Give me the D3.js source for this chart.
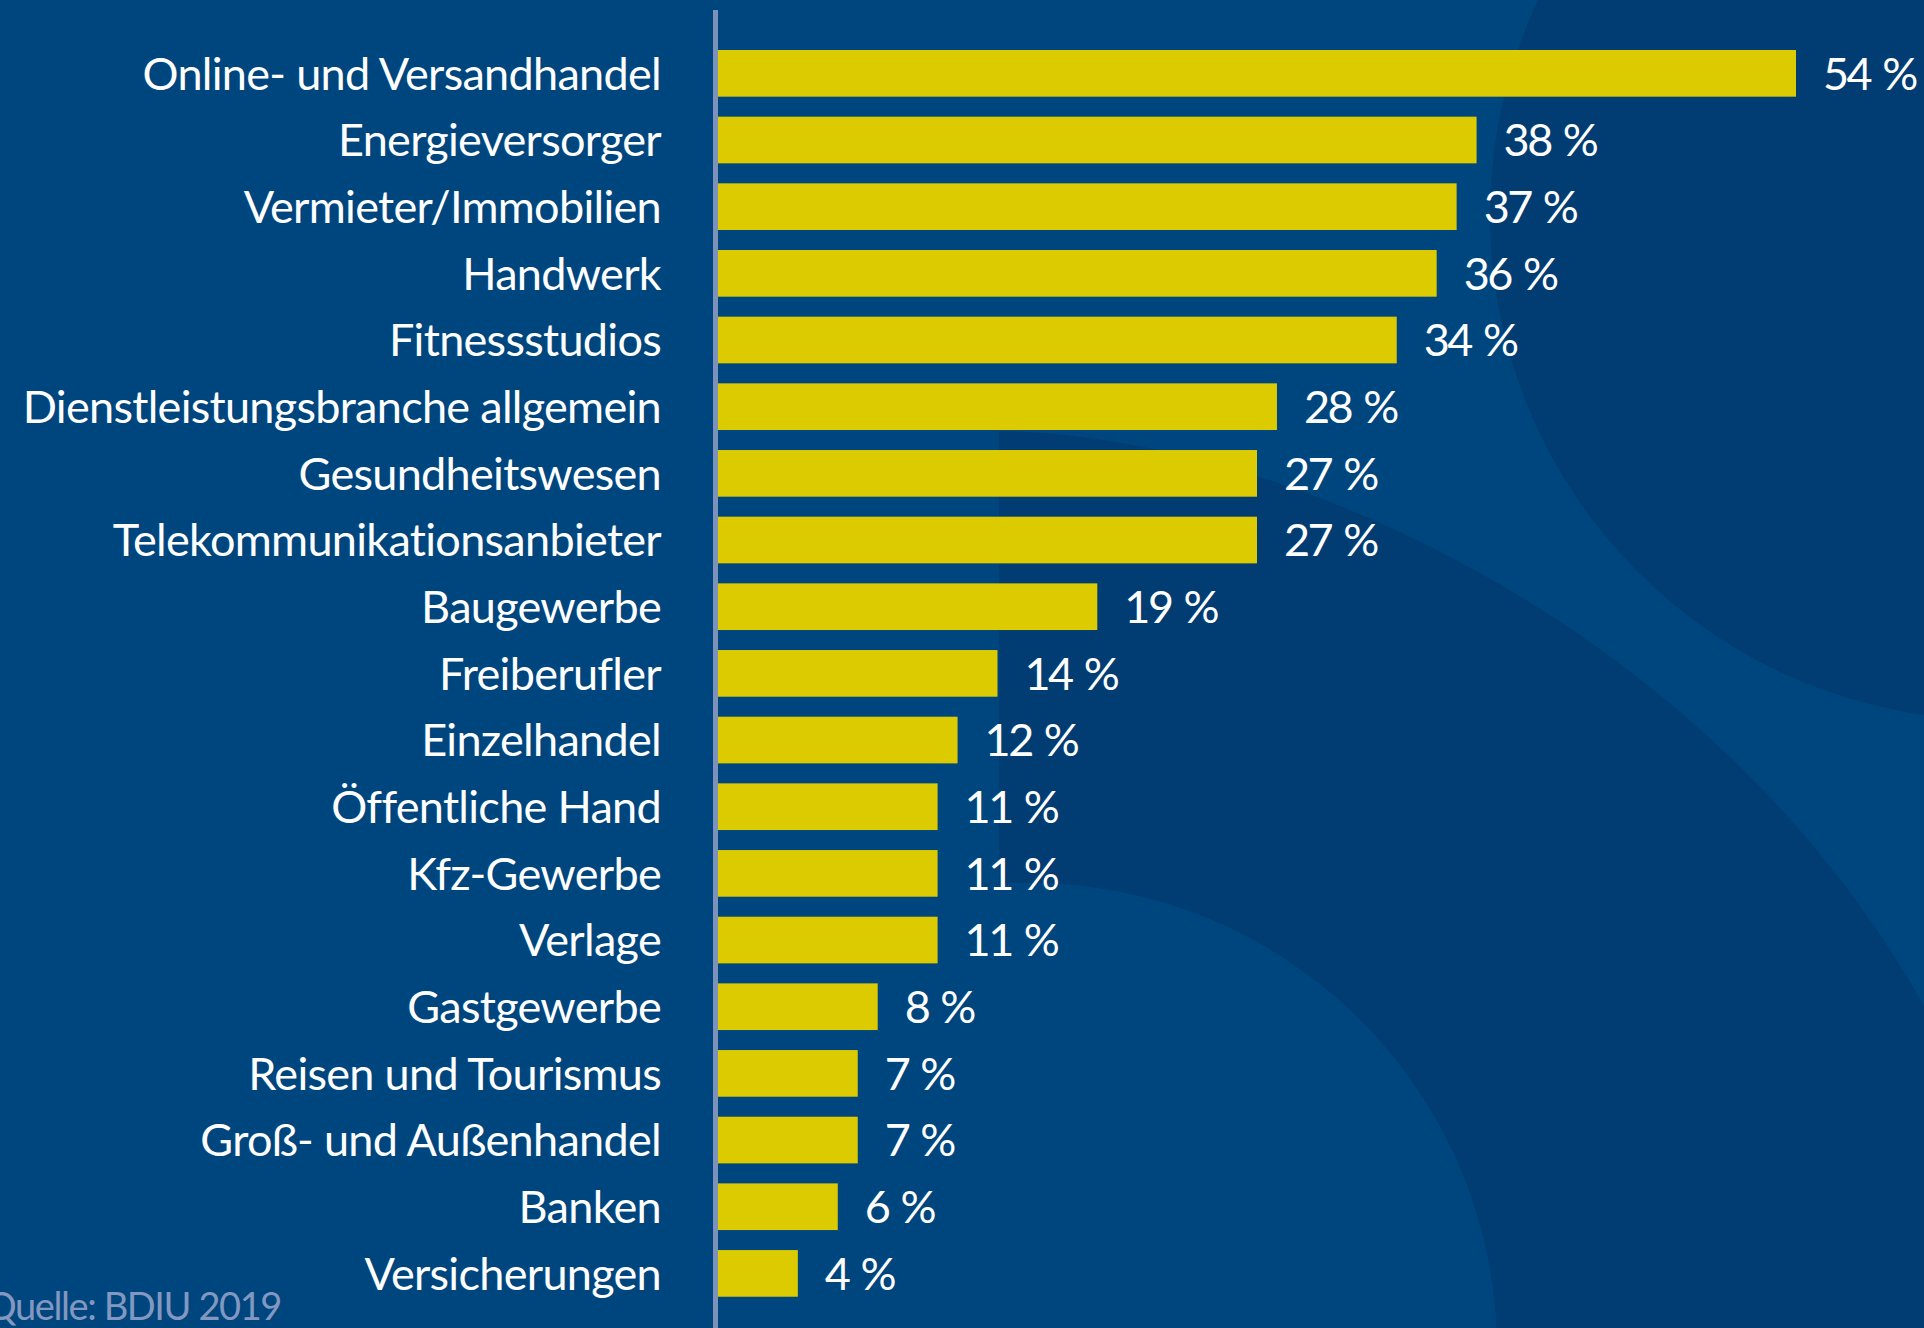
<!DOCTYPE html>
<html>
<head>
<meta charset="utf-8">
<script src="https://cdn.jsdelivr.net/npm/d3@7"></script>
<style>
  html, body { margin: 0; padding: 0; background: #00467e; overflow: hidden; }
  svg { display: block; }
</style>
</head>
<body>
<svg id="chart" width="1924" height="1328"></svg>
<script>
const categories = [
  'Online- und Versandhandel',
  'Energieversorger',
  'Vermieter/Immobilien',
  'Handwerk',
  'Fitnessstudios',
  'Dienstleistungsbranche allgemein',
  'Gesundheitswesen',
  'Telekommunikationsanbieter',
  'Baugewerbe',
  'Freiberufler',
  'Einzelhandel',
  'Öffentliche Hand',
  'Kfz-Gewerbe',
  'Verlage',
  'Gastgewerbe',
  'Reisen und Tourismus',
  'Groß- und Außenhandel',
  'Banken',
  'Versicherungen'
]
const values = [54, 38, 37, 36, 34, 28, 27, 27, 19, 14, 12, 11, 11, 11, 8, 7, 7, 6, 4]
const source = 'Quelle: BDIU 2019'

const width = 1924
const height = 1328
const margin = { top: 40, left: 718, bottom: 21 }
const font = 'Lato, "Open Sans", sans-serif'

const data = categories.map((c, i) => ({ label: c, value: values[i] }))

const svg = d3.select('#chart')

// background: plain blue on the left, darker picture with soft circles on the right
const bg = svg.append('g')
bg.append('rect')
  .attr('width', width)
  .attr('height', height)
  .attr('fill', '#00467e')
bg.append('path')
  .attr('d', 'M999,431 C1300,436 1720,640 1924,1006 L1924,1328 L999,1328 Z')
  .attr('fill', '#013d72')
bg.append('clipPath')
  .attr('id', 'right-clip')
  .append('rect')
  .attr('x', 999)
  .attr('width', width - 999)
  .attr('height', height)
bg.append('circle')
  .attr('cx', 1030)
  .attr('cy', 1350)
  .attr('r', 467)
  .attr('fill', '#00467e')
  .attr('clip-path', 'url(#right-clip)')
bg.append('circle')
  .attr('cx', 1995)
  .attr('cy', 215)
  .attr('r', 505)
  .attr('fill', '#013d72')

const x = d3.scaleLinear()
  .domain([0, 54])
  .range([margin.left, 1796])

const y = d3.scaleBand()
  .domain(categories)
  .range([margin.top, margin.top + 19 * 66.67])
  .paddingInner(0.3)
  .paddingOuter(0.15)

// vertical axis line
svg.append('line')
  .attr('x1', margin.left - 2.5)
  .attr('x2', margin.left - 2.5)
  .attr('y1', 10)
  .attr('y2', height)
  .attr('stroke', '#7d92bb')
  .attr('stroke-width', 5)

const rows = svg.append('g')
  .attr('font-family', font)
  .attr('font-size', 45)
  .attr('fill', '#ffffff')
  .selectAll('g')
  .data(data)
  .enter().append('g')

rows.append('rect')
  .attr('x', x(0))
  .attr('y', d => y(d.label))
  .attr('width', d => x(d.value) - x(0))
  .attr('height', y.bandwidth())
  .attr('fill', '#dccb00')

rows.append('text')
  .text(d => d.label)
  .attr('x', margin.left - 57)
  .attr('y', d => y(d.label) + y.bandwidth() / 2)
  .attr('dy', '0.36em')
  .attr('text-anchor', 'end')
  .attr('letter-spacing', -0.7)

const valueText = rows.append('text')
  .attr('x', d => x(d.value) + 27)
  .attr('y', d => y(d.label) + y.bandwidth() / 2)
  .attr('dy', '0.36em')
  .attr('letter-spacing', -2.5)
valueText.append('tspan').text(d => d.value)
valueText.append('tspan').attr('dx', 3).text(' %')

svg.append('text')
  .text(source)
  .attr('x', 281)
  .attr('y', 1320)
  .attr('text-anchor', 'end')
  .attr('font-family', font)
  .attr('font-size', 38)
  .attr('letter-spacing', -1.4)
  .attr('fill', '#8398c0')
</script>
</body>
</html>
